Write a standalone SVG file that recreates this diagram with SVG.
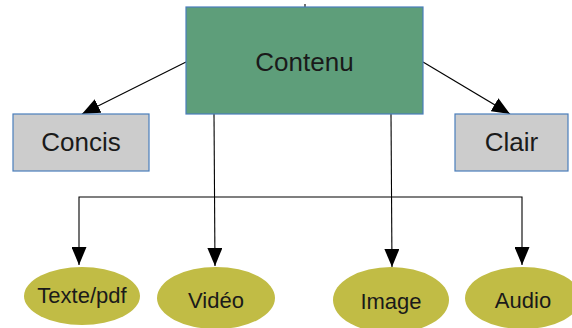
<svg xmlns="http://www.w3.org/2000/svg" width="572" height="328" viewBox="0 0 572 328">
  <style>
    .lbl { font-family: "Liberation Sans", Arial, sans-serif; fill: #1a1a1a; text-anchor: middle; }
    .big { font-size: 26px; }
    .sm { font-size: 22px; }
    .box { fill: #cccccc; stroke: #4a7ebb; stroke-width: 1.2; }
    .main { fill: #5e9e7a; stroke: #4a7ebb; stroke-width: 1.2; }
    .ell { fill: #c1bc45; stroke: none; }
    .con { fill: none; stroke: #000; stroke-width: 1.1; }
    .arr { marker-end: url(#ah); }
  </style>
  <defs>
    <marker id="ah" markerUnits="userSpaceOnUse" markerWidth="18" markerHeight="15" refX="18" refY="7.5" orient="auto" viewBox="0 0 18 15">
      <path d="M0,0 L18,7.5 L0,15 z" fill="#000"/>
    </marker>
  </defs>
  <rect width="572" height="328" fill="#ffffff"/>
  <g id="connectors">
    <line class="con" x1="305" y1="4" x2="305" y2="7"/>
    <line class="con arr" x1="186" y1="62" x2="82" y2="114"/>
    <line class="con arr" x1="423" y1="62" x2="510" y2="114"/>
    <line class="con arr" x1="214" y1="114" x2="215" y2="266"/>
    <line class="con arr" x1="391" y1="114" x2="392" y2="267"/>
    <path class="con arr" d="M300,197 H79 V265"/>
    <path class="con arr" d="M300,197 H522 V265"/>
  </g>
  <g id="node-contenu">
    <rect class="main" x="186" y="7" width="237" height="107"/>
    <text class="lbl big" x="304.5" y="71">Contenu</text>
  </g>
  <g id="node-concis">
    <rect class="box" x="13" y="114" width="136" height="57"/>
    <text class="lbl big" x="81" y="151">Concis</text>
  </g>
  <g id="node-clair">
    <rect class="box" x="455" y="114" width="113" height="57"/>
    <text class="lbl big" x="511.5" y="151">Clair</text>
  </g>
  <g id="node-texte">
    <ellipse class="ell" cx="82" cy="296" rx="58" ry="29"/>
    <text class="lbl sm" x="82" y="303">Texte/pdf</text>
  </g>
  <g id="node-video">
    <ellipse class="ell" cx="216" cy="298" rx="59" ry="31"/>
    <text class="lbl sm" x="216" y="308">Vidéo</text>
  </g>
  <g id="node-image">
    <ellipse class="ell" cx="391" cy="300" rx="58" ry="33"/>
    <text class="lbl sm" x="391" y="309">Image</text>
  </g>
  <g id="node-audio">
    <ellipse class="ell" cx="523" cy="298" rx="58" ry="31"/>
    <text class="lbl sm" x="523" y="308">Audio</text>
  </g>
</svg>
